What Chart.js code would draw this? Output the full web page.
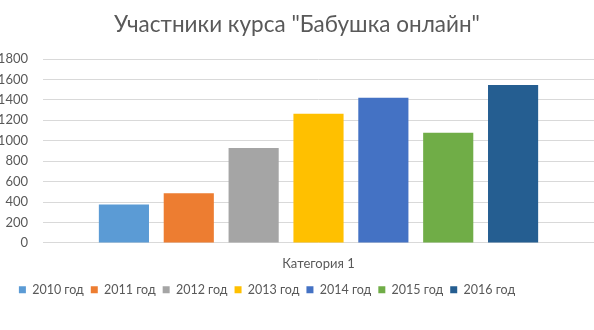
<!DOCTYPE html>
<html>
<head>
<meta charset="utf-8">
<script src="https://cdn.jsdelivr.net/npm/chart.js@4/dist/chart.umd.min.js"></script>
<style>
  html, body { margin: 0; padding: 0; background: #fff; }
  #wrap { width: 594px; height: 330px; }
</style>
</head>
<body>
<div id="wrap"><canvas id="chart"></canvas></div>
<script>
var categories = ['Категория 1'];
var seriesNames = ['2010 год', '2011 год', '2012 год', '2013 год', '2014 год', '2015 год', '2016 год'];
var seriesValues = [375, 487, 929, 1265, 1420, 1077, 1546];
var seriesColors = ['#5B9BD5', '#ED7D31', '#A5A5A5', '#FFC000', '#4472C4', '#70AD47', '#255E91'];
var yTicks = [0, 200, 400, 600, 800, 1000, 1200, 1400, 1600, 1800];

var datasets = seriesNames.map(function(name, i) {
    return {
        label: name,
        data: [seriesValues[i]],
        backgroundColor: seriesColors[i],
        borderWidth: 0,
        categoryPercentage: 0.824,
        barPercentage: 0.773
    };
});

// legend in the original sits a bit left of centre
var shiftLegend = {
    id: 'shiftLegend',
    afterLayout: function(chart) {
        var lg = chart.legend;
        lg.left -= 30;
        lg.right -= 30;
    }
};

var ctx = document.getElementById('chart').getContext('2d');
new Chart(ctx, {
    type: 'bar',
    data: { labels: categories, datasets: datasets },
    plugins: [shiftLegend],
    options: {
        responsive: true,
        maintainAspectRatio: false,
        animation: false,
        layout: { padding: { left: 0, right: 0, top: 11, bottom: 24 } },
        plugins: {
            title: {
                display: true,
                text: 'Участники курса "Бабушка онлайн"',
                color: '#595959',
                font: { family: 'Lato', size: 22.5, weight: 'normal' },
                padding: { top: 0, bottom: 21 }
            },
            legend: {
                position: 'bottom',
                labels: {
                    boxWidth: 7,
                    boxHeight: 7,
                    padding: 7,
                    color: '#595959',
                    font: { family: 'Lato', size: 12.5 }
                }
            },
            tooltip: { enabled: false }
        },
        scales: {
            x: {
                grid: { display: false },
                border: { display: false },
                ticks: { color: '#595959', font: { family: 'Lato', size: 13 }, padding: 5 }
            },
            y: {
                min: 0,
                max: 1800,
                afterBuildTicks: function(axis) {
                    axis.ticks = yTicks.map(function(v) { return { value: v }; });
                },
                afterFit: function(axis) { axis.width = 43; },
                grid: { color: '#d9d9d9', lineWidth: 1, drawTicks: false },
                border: { display: false },
                ticks: {
                    color: '#595959',
                    font: { family: 'Lato', size: 13 },
                    padding: 15,
                    callback: function(v) { return String(v); }
                }
            }
        }
    }
});
</script>
</body>
</html>
